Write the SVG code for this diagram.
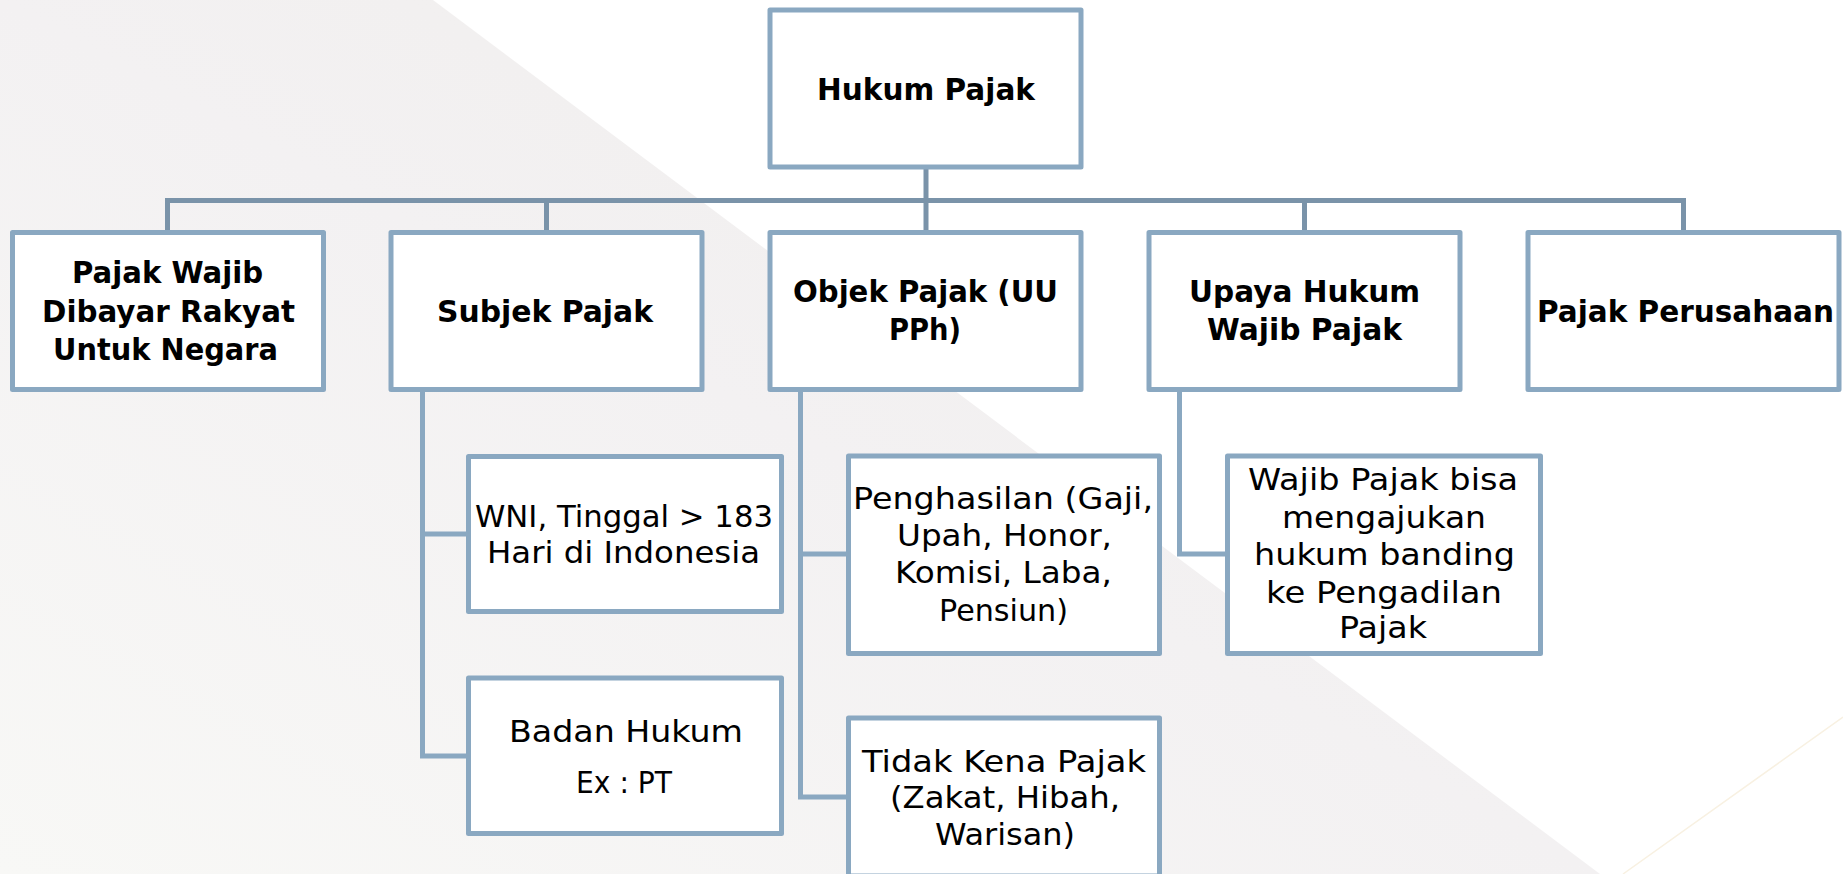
<svg xmlns="http://www.w3.org/2000/svg" width="1843" height="874" viewBox="0 0 1843 874">
<defs>
<linearGradient id="bg" x1="1" y1="0" x2="0" y2="1">
<stop offset="0" stop-color="#efedea"/>
<stop offset="0.5" stop-color="#f3f1f2"/>
<stop offset="1" stop-color="#f8f8f6"/>
</linearGradient>
<style>
.box{fill:#ffffff;stroke:#8aa8c1;stroke-width:5;stroke-linejoin:round}
.c1{fill:none;stroke:#7a93a9;stroke-width:5}
.c2{fill:none;stroke:#8aa8c1;stroke-width:5}
.b{font-family:"DejaVu Sans","Liberation Sans",sans-serif;font-weight:bold;font-size:30px;fill:#000;text-anchor:middle}
.r{font-family:"DejaVu Sans","Liberation Sans",sans-serif;font-weight:normal;font-size:31px;fill:#000;text-anchor:middle}
</style>
</defs>
<rect x="0" y="0" width="1843" height="874" fill="#ffffff"/>
<polygon points="0,0 433,0 1600,874 0,874" fill="url(#bg)"/>
<line x1="1623" y1="874" x2="1843" y2="717" stroke="#f8f1e2" stroke-width="1.5"/>

<g id="connectors">
<path class="c1" d="M926,167 V232.5 M167.5,232.5 V200.5 H1683.5 V232.5 M546.5,200.5 V232.5 M1304.5,200.5 V232.5"/>
<path class="c2" d="M422.5,390 V756 H468.5 M422.5,534 H468.5"/>
<path class="c2" d="M800.5,390 V797 H848.5 M800.5,554 H848.5"/>
<path class="c2" d="M1179.5,390 V554 H1227.5"/>
</g>

<g id="n-root">
<rect class="box" x="770" y="10" width="311" height="157"/>
<text class="b" x="926" y="100" textLength="218" lengthAdjust="spacingAndGlyphs">Hukum Pajak</text>
</g>
<g id="n-wajib">
<rect class="box" x="12.5" y="232.5" width="311" height="157"/>
<text class="b" x="167.5" y="283" textLength="191" lengthAdjust="spacingAndGlyphs">Pajak Wajib</text>
<text class="b" x="168.5" y="322" textLength="253" lengthAdjust="spacingAndGlyphs">Dibayar Rakyat</text>
<text class="b" x="165.5" y="360" textLength="225" lengthAdjust="spacingAndGlyphs">Untuk Negara</text>
</g>
<g id="n-subjek">
<rect class="box" x="391" y="232.5" width="311" height="157"/>
<text class="b" x="545" y="322" textLength="216" lengthAdjust="spacingAndGlyphs">Subjek Pajak</text>
</g>
<g id="n-objek">
<rect class="box" x="770" y="232.5" width="311" height="157"/>
<text class="b" x="925.5" y="302" textLength="265" lengthAdjust="spacingAndGlyphs">Objek Pajak (UU</text>
<text class="b" x="925" y="340" textLength="72" lengthAdjust="spacingAndGlyphs">PPh)</text>
</g>
<g id="n-upaya">
<rect class="box" x="1149" y="232.5" width="311" height="157"/>
<text class="b" x="1304.5" y="302" textLength="231" lengthAdjust="spacingAndGlyphs">Upaya Hukum</text>
<text class="b" x="1304.5" y="340" textLength="195" lengthAdjust="spacingAndGlyphs">Wajib Pajak</text>
</g>
<g id="n-perusahaan">
<rect class="box" x="1528" y="232.5" width="311" height="157"/>
<text class="b" x="1685.5" y="322" textLength="297" lengthAdjust="spacingAndGlyphs">Pajak Perusahaan</text>
</g>
<g id="n-wni">
<rect class="box" x="468.5" y="456.5" width="313" height="155"/>
<text class="r" x="624" y="527" textLength="298" lengthAdjust="spacingAndGlyphs">WNI, Tinggal &gt; 183</text>
<text class="r" x="623.5" y="563" textLength="273" lengthAdjust="spacingAndGlyphs">Hari di Indonesia</text>
</g>
<g id="n-badan">
<rect class="box" x="468.5" y="678" width="313" height="155.5"/>
<text class="r" x="626" y="742" textLength="234" lengthAdjust="spacingAndGlyphs">Badan Hukum</text>
<text class="r" x="624" y="793" textLength="96" lengthAdjust="spacingAndGlyphs">Ex : PT</text>
</g>
<g id="n-penghasilan">
<rect class="box" x="848.5" y="456" width="311" height="197.5"/>
<text class="r" x="1003" y="509" textLength="300" lengthAdjust="spacingAndGlyphs">Penghasilan  (Gaji,</text>
<text class="r" x="1004.5" y="546" textLength="215" lengthAdjust="spacingAndGlyphs">Upah, Honor,</text>
<text class="r" x="1003.5" y="583" textLength="217" lengthAdjust="spacingAndGlyphs">Komisi, Laba,</text>
<text class="r" x="1003.5" y="621" textLength="129" lengthAdjust="spacingAndGlyphs">Pensiun)</text>
</g>
<g id="n-tidak">
<rect class="box" x="848.5" y="718" width="311" height="158"/>
<text class="r" x="1004" y="772" textLength="284" lengthAdjust="spacingAndGlyphs">Tidak Kena Pajak</text>
<text class="r" x="1005" y="808" textLength="230" lengthAdjust="spacingAndGlyphs">(Zakat, Hibah,</text>
<text class="r" x="1005" y="845" textLength="140" lengthAdjust="spacingAndGlyphs">Warisan)</text>
</g>
<g id="n-banding">
<rect class="box" x="1227.5" y="456" width="313" height="197.5"/>
<text class="r" x="1383" y="490" textLength="270" lengthAdjust="spacingAndGlyphs">Wajib Pajak bisa</text>
<text class="r" x="1384" y="528" textLength="204" lengthAdjust="spacingAndGlyphs">mengajukan</text>
<text class="r" x="1384.5" y="565" textLength="261" lengthAdjust="spacingAndGlyphs">hukum banding</text>
<text class="r" x="1384" y="603" textLength="236" lengthAdjust="spacingAndGlyphs">ke Pengadilan</text>
<text class="r" x="1383" y="638" textLength="88" lengthAdjust="spacingAndGlyphs">Pajak</text>
</g>
</svg>
